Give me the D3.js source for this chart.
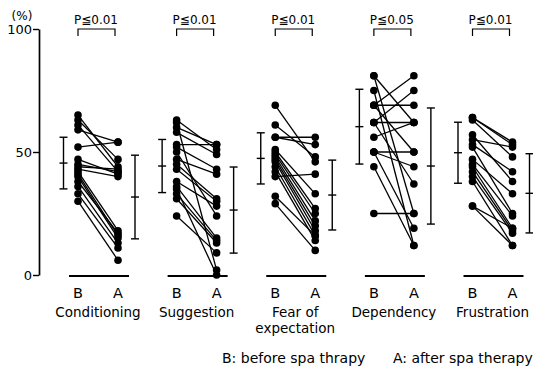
<!DOCTYPE html>
<html>
<head>
<meta charset="utf-8">
<script src="https://cdn.jsdelivr.net/npm/d3@7"></script>
<style>
  body { margin: 0; background: #fff; }
  text { font-family: "DejaVu Sans", Verdana, sans-serif; fill: #000; }
</style>
</head>
<body>
<div id="chart"></div>
<script>
const categories = ["Conditioning", "Suggestion", "Fear of\nexpectation", "Dependency", "Frustration"];
const pLabels = ["P\u22660.01", "P\u22660.01", "P\u22660.01", "P\u22660.05", "P\u22660.01"];

// individual scores (%), before (B) and after (A), paired by index
const beforeVals = [
  [65, 63, 61, 59, 52, 47, 45, 44, 43, 42, 41, 40, 38, 36, 33, 30],
  [63, 62, 60, 58, 53, 52, 50, 47, 45, 43, 38, 36, 35, 33, 31, 24],
  [69, 61, 56, 56, 51, 50, 49, 48, 47, 46, 44, 42, 40, 32, 29],
  [81, 81, 75, 69, 69, 69, 62, 62, 62, 56, 50, 50, 50, 44, 25],
  [64, 64, 63, 57, 55, 53, 52, 47, 45, 44, 42, 40, 38, 28, 28]
];
const afterVals = [
  [44, 47, 42, 54, 54, 41, 42, 43, 40, 18, 16, 15, 17, 13, 11, 6],
  [51, 2, 53, 49, 53, 43, 24, 41, 31, 30, 28, 15, 0, 14, 13, 9],
  [46, 48, 56, 53, 33, 27, 25, 22, 20, 18, 16, 14, 41, 16, 10],
  [62, 25, 12, 81, 69, 50, 75, 62, 37, 62, 50, 44, 19, 12, 25],
  [54, 53, 48, 38, 52, 42, 25, 33, 24, 19, 18, 17, 12, 19, 12]
];

// mean and SD bars
const meanB = [45.5, 44.3, 47.4, 60.3, 49.7];
const sdB   = [10.5, 10.8, 10.4, 15.2, 12.4];
const meanA = [31.7, 26.4, 32.5, 44.3, 33.2];
const sdA   = [17.0, 17.5, 14.2, 23.6, 16.1];

const yTicks = [0, 50, 100];
const legendItems = ["B: before spa thrapy", "A: after spa therapy"];

const width = 533, height = 372;

const svg = d3.select("#chart").append("svg")
  .attr("width", width)
  .attr("height", height);

const x = d3.scalePoint()
  .domain(categories)
  .range([98, 492.5]);

const y = d3.scaleLinear()
  .domain([0, 100])
  .range([275, 29]);

// y axis
const yAxis = d3.axisLeft(y)
  .tickValues(yTicks)
  .tickSize(6)
  .tickSizeOuter(0)
  .tickPadding(1);

const yG = svg.append("g")
  .attr("transform", "translate(39,0)")
  .call(yAxis);
yG.select(".domain").attr("stroke", "#000").attr("stroke-width", 1.7);
yG.selectAll(".tick line").attr("stroke", "#000").attr("stroke-width", 1.4);
yG.selectAll(".tick text")
  .attr("font-size", 13)
  .attr("dy", "0.35em")
  .style("font-family", "'DejaVu Sans', sans-serif")
  .attr("fill", "#000");

svg.append("text")
  .attr("x", 22)
  .attr("y", 20)
  .attr("text-anchor", "middle")
  .attr("font-size", 12)
  .text("(%)");

const bOff = -20, aOff = 20;

categories.forEach((cat, i) => {
  const cx = x(cat);
  const g = svg.append("g");
  const xb = cx + bOff, xa = cx + aOff;

  // baseline
  g.append("line")
    .attr("x1", cx - 29).attr("x2", cx + 31)
    .attr("y1", y(0) + 1).attr("y2", y(0) + 1)
    .attr("stroke", "#000").attr("stroke-width", 2.2);

  // paired lines
  beforeVals[i].forEach((b, j) => {
    g.append("line")
      .attr("x1", xb).attr("y1", y(b))
      .attr("x2", xa).attr("y2", y(afterVals[i][j]))
      .attr("stroke", "#000").attr("stroke-width", 1.3);
  });

  // points
  g.selectAll("circle.b")
    .data(beforeVals[i])
    .enter().append("circle")
    .attr("cx", xb).attr("cy", d => y(d)).attr("r", 3.8).attr("fill", "#000");
  g.selectAll("circle.a")
    .data(afterVals[i])
    .enter().append("circle")
    .attr("cx", xa).attr("cy", d => y(d)).attr("r", 3.8).attr("fill", "#000");

  // mean +- SD bars
  [[cx - 34.5, meanB[i], sdB[i]], [cx + 37, meanA[i], sdA[i]]].forEach(([ex, m, s]) => {
    g.append("line")
      .attr("x1", ex).attr("x2", ex)
      .attr("y1", y(m + s)).attr("y2", y(m - s))
      .attr("stroke", "#000").attr("stroke-width", 1.4);
    [m + s, m, m - s].forEach(v => {
      g.append("line")
        .attr("x1", ex - 4).attr("x2", ex + 4)
        .attr("y1", y(v)).attr("y2", y(v))
        .attr("stroke", "#000").attr("stroke-width", 1.4);
    });
  });

  // significance bracket
  g.append("path")
    .attr("d", `M${xb},${y(100) + 7} V${y(100)} H${xa - 3} V${y(100) + 7}`)
    .attr("fill", "none").attr("stroke", "#000").attr("stroke-width", 1.2);
  g.append("text")
    .attr("x", cx - 2).attr("y", 24)
    .attr("text-anchor", "middle")
    .attr("font-size", 12)
    .text(pLabels[i]);

  // B / A labels
  g.append("text").attr("x", xb).attr("y", 298)
    .attr("text-anchor", "middle").attr("font-size", 14.5).text("B");
  g.append("text").attr("x", xa).attr("y", 298)
    .attr("text-anchor", "middle").attr("font-size", 14.5).text("A");

  // category name
  cat.split("\n").forEach((line, k) => {
    g.append("text")
      .attr("x", cx).attr("y", 317 + k * 16)
      .attr("text-anchor", "middle")
      .attr("font-size", 13.5)
      .text(line);
  });
});

// legend
svg.append("text").attr("x", 222).attr("y", 363).attr("font-size", 14).text(legendItems[0]);
svg.append("text").attr("x", 393).attr("y", 363).attr("font-size", 14).text(legendItems[1]);
</script>
</body>
</html>
